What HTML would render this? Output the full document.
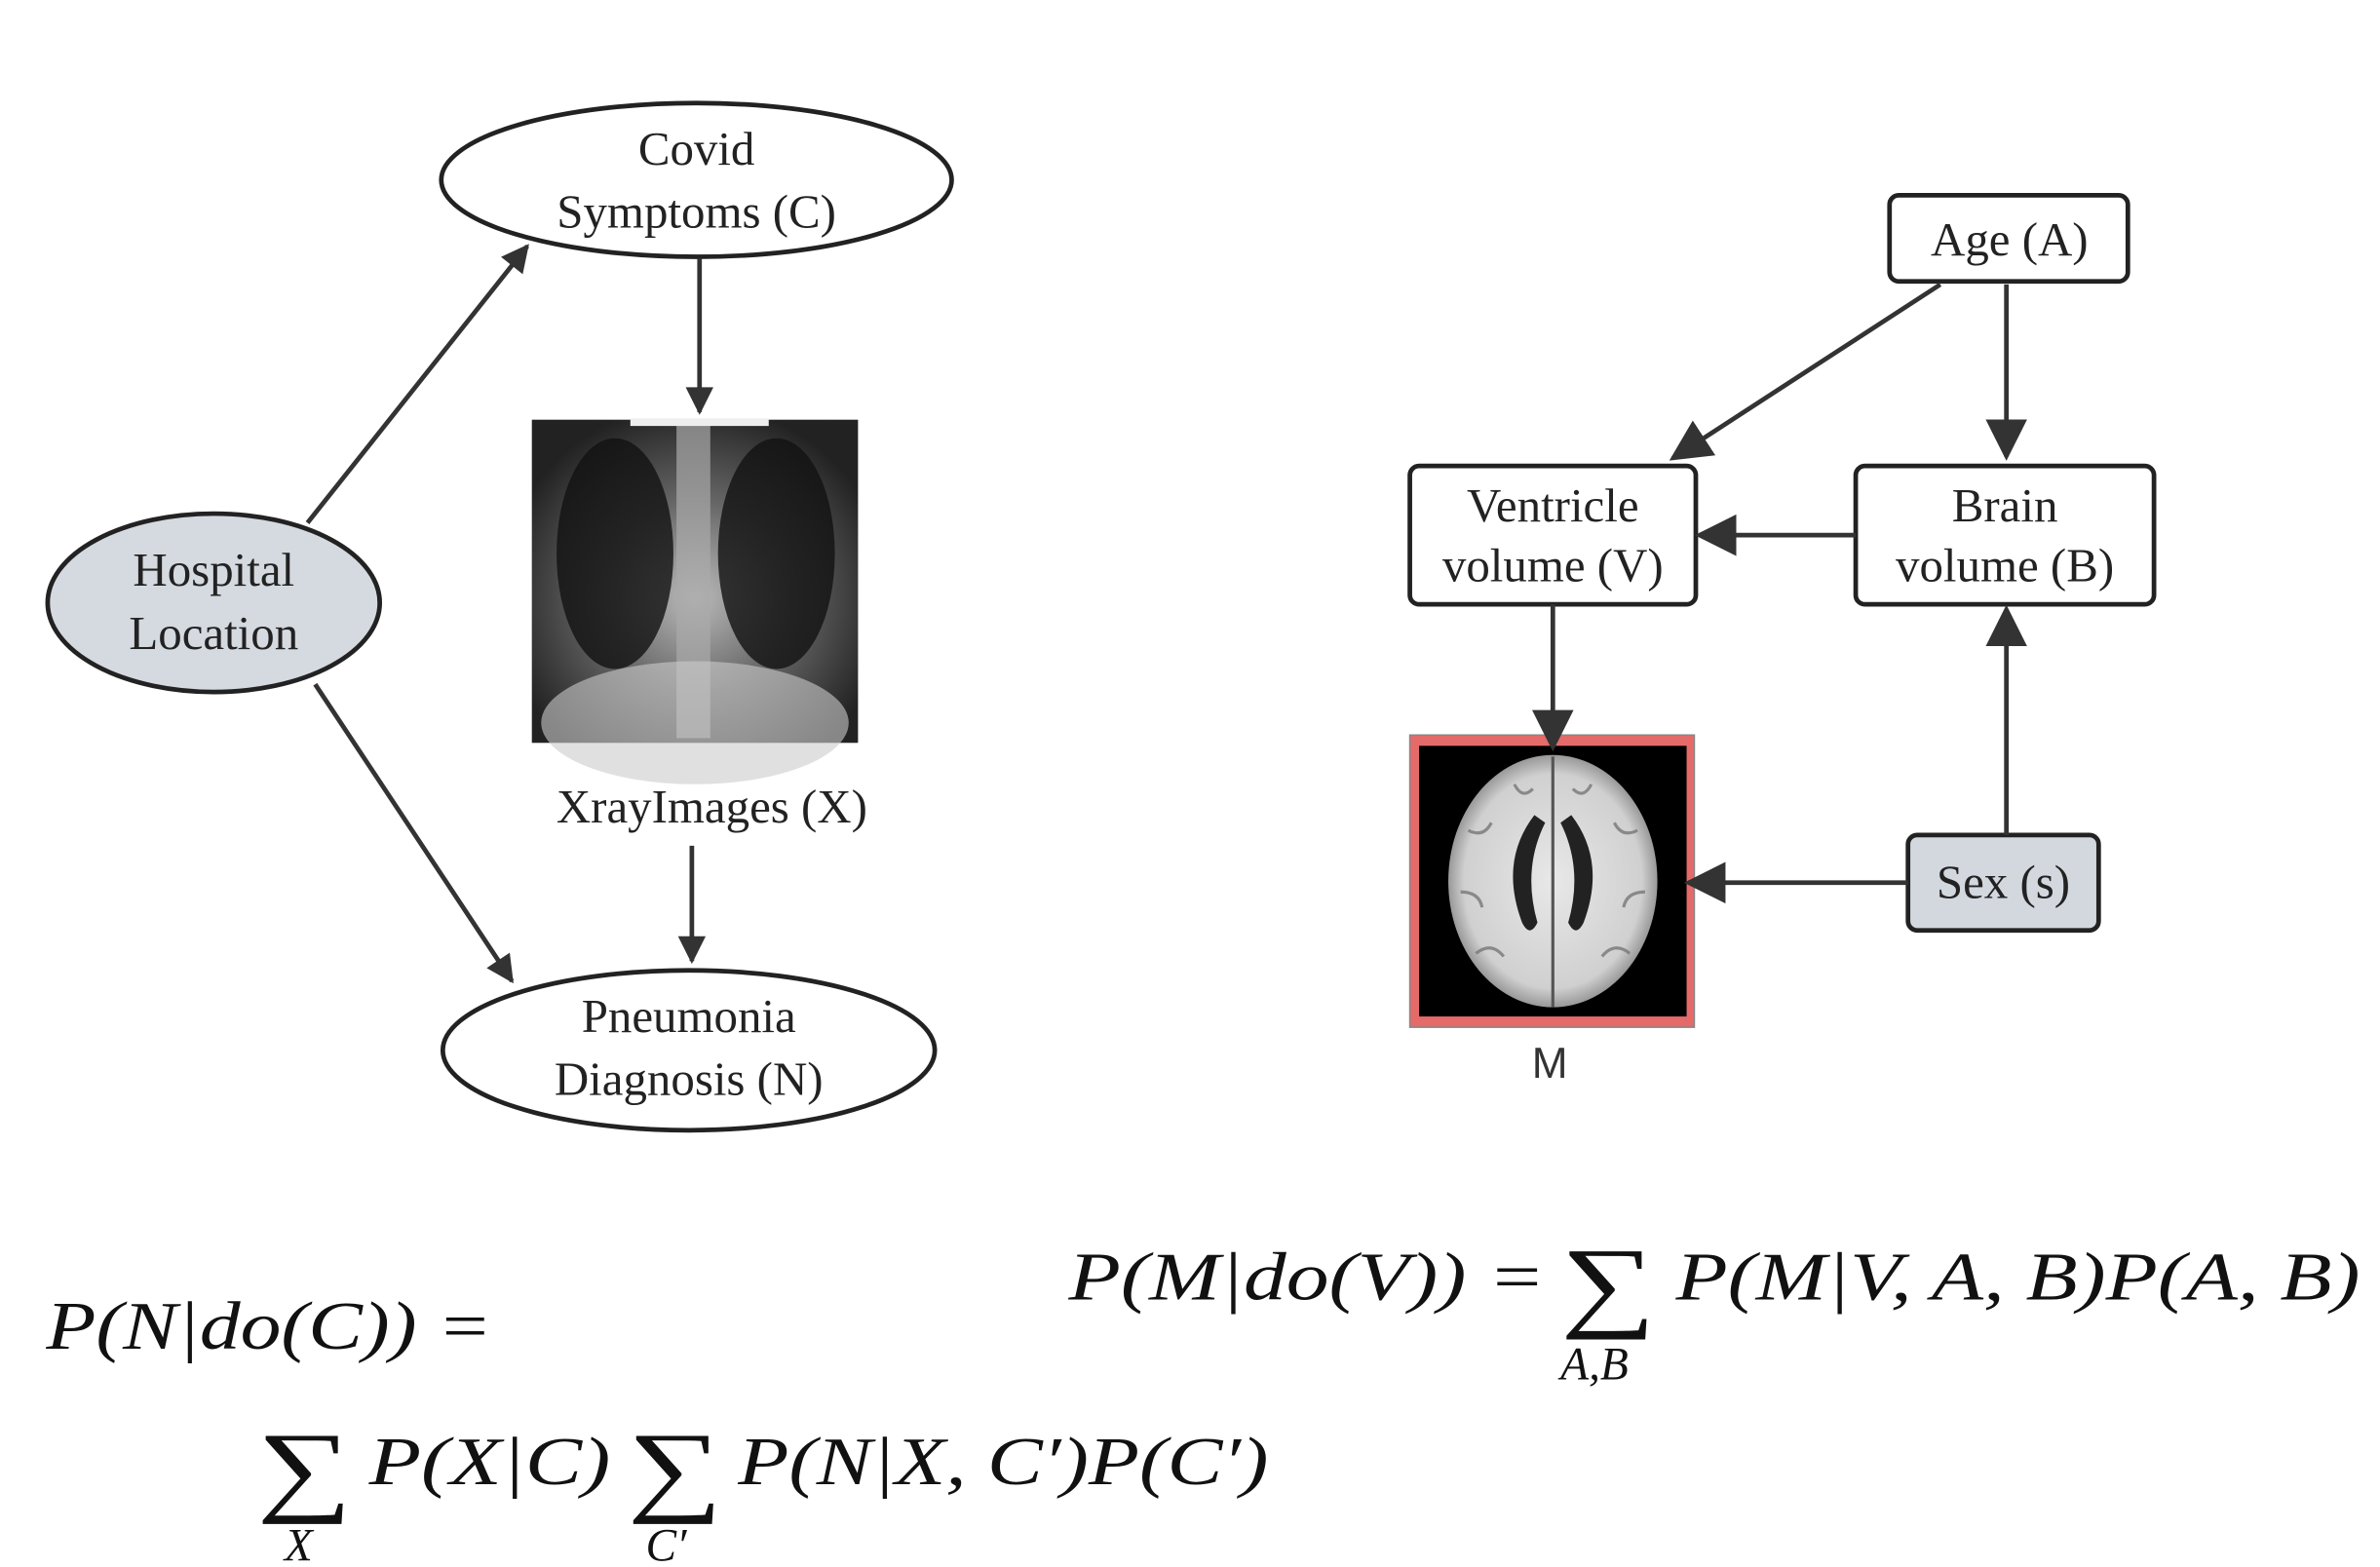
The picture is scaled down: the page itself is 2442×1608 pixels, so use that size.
<!DOCTYPE html>
<html><head><meta charset="utf-8"><style>
html,body{margin:0;padding:0;background:#fff}
svg{display:block}
.t{font-family:"Liberation Serif",serif;font-size:31px;fill:#222}
.m{font-family:"Liberation Serif",serif;font-style:italic;font-size:44px;fill:#111}
.mu{font-family:"Liberation Serif",serif;font-size:44px;fill:#111}
</style></head><body>
<svg width="2442" height="1608" viewBox="0 0 1548 1019" preserveAspectRatio="none" xmlns="http://www.w3.org/2000/svg">
<defs>
<marker id="ah" viewBox="0 0 10 10" refX="9" refY="5" markerWidth="22" markerHeight="18" markerUnits="userSpaceOnUse" orient="auto"><path d="M0,0L10,5L0,10z" fill="#333"/></marker>
<marker id="ah2" viewBox="0 0 10 10" refX="9" refY="5" markerWidth="9" markerHeight="9" orient="auto"><path d="M0,0L10,5L0,10z" fill="#333"/></marker>
<radialGradient id="xr" cx="50%" cy="55%" r="60%"><stop offset="0" stop-color="#bbb"/><stop offset="0.5" stop-color="#666"/><stop offset="1" stop-color="#222"/></radialGradient>
<radialGradient id="br" cx="50%" cy="50%" r="50%"><stop offset="0" stop-color="#e8e8e8"/><stop offset="0.85" stop-color="#d0d0d0"/><stop offset="1" stop-color="#999"/></radialGradient>
</defs>
<g>
<ellipse cx="453" cy="117" rx="166" ry="50" fill="#fff" stroke="#222" stroke-width="3"/>
<text class="t" x="453" y="107" text-anchor="middle">Covid</text>
<text class="t" x="453" y="148" text-anchor="middle">Symptoms (C)</text>
<ellipse cx="139" cy="392" rx="108" ry="58" fill="#d5d9e0" stroke="#222" stroke-width="3"/>
<text class="t" x="139" y="381" text-anchor="middle">Hospital</text>
<text class="t" x="139" y="422" text-anchor="middle">Location</text>
<ellipse cx="448" cy="683" rx="160" ry="52" fill="#fff" stroke="#222" stroke-width="3"/>
<text class="t" x="448" y="671" text-anchor="middle">Pneumonia</text>
<text class="t" x="448" y="712" text-anchor="middle">Diagnosis (N)</text>
<g>
<rect x="346" y="273" width="212" height="210" fill="#2a2a2a"/>
<rect x="346" y="273" width="212" height="210" fill="url(#xr)"/>
<ellipse cx="400" cy="360" rx="38" ry="75" fill="#111" opacity="0.8"/>
<ellipse cx="505" cy="360" rx="38" ry="75" fill="#111" opacity="0.8"/>
<rect x="440" y="275" width="22" height="205" fill="#aaa" opacity="0.7"/>
<ellipse cx="452" cy="470" rx="100" ry="40" fill="#ccc" opacity="0.6"/>
<rect x="346" y="450" width="212" height="33" fill="#fff" opacity="0"/>
<rect x="410" y="272" width="90" height="5" fill="#eee"/>
</g>
<text class="t" x="463" y="535" text-anchor="middle">XrayImages (X)</text>
<g stroke="#333" stroke-width="3" fill="none">
<line x1="200" y1="340" x2="343" y2="160" marker-end="url(#ah)"/>
<line x1="205" y1="445" x2="333" y2="638" marker-end="url(#ah)"/>
<line x1="455" y1="168" x2="455" y2="268" marker-end="url(#ah)"/>
<line x1="450" y1="550" x2="450" y2="625" marker-end="url(#ah)"/>
</g>
</g>
<g>
<rect x="1229" y="127" width="155" height="56" rx="6" fill="#fff" stroke="#222" stroke-width="3"/>
<text class="t" x="1307" y="166" text-anchor="middle">Age (A)</text>
<rect x="917" y="303" width="186" height="90" rx="6" fill="#fff" stroke="#222" stroke-width="3"/>
<text class="t" x="1010" y="339" text-anchor="middle">Ventricle</text>
<text class="t" x="1010" y="378" text-anchor="middle">volume (V)</text>
<rect x="1207" y="303" width="194" height="90" rx="6" fill="#fff" stroke="#222" stroke-width="3"/>
<text class="t" x="1304" y="339" text-anchor="middle">Brain</text>
<text class="t" x="1304" y="378" text-anchor="middle">volume (B)</text>
<rect x="1241" y="543" width="124" height="62" rx="6" fill="#d3d8df" stroke="#222" stroke-width="3"/>
<text class="t" x="1303" y="584" text-anchor="middle">Sex (s)</text>
<g>
<rect x="917" y="478" width="185" height="190" fill="#e56a6a" stroke="#888" stroke-width="1"/>
<rect x="923" y="485" width="174" height="176" fill="#000"/>
<ellipse cx="1010" cy="573" rx="68" ry="82" fill="url(#br)"/>
<g stroke="#777" stroke-width="2" fill="none" opacity="0.8">
<path d="M955,540 q10,5 15,-5 M950,580 q12,0 14,10 M960,620 q10,-8 18,2 M1065,540 q-10,5 -15,-5 M1070,580 q-12,0 -14,10 M1060,620 q-10,-8 -18,2 M985,510 q5,10 12,3 M1035,510 q-5,10 -12,3"/>
</g>
<path d="M998,530 Q975,560 990,600 Q995,610 1000,600 Q990,565 1005,535z" fill="#222"/>
<path d="M1022,530 Q1045,560 1030,600 Q1025,610 1020,600 Q1030,565 1015,535z" fill="#222"/>
<line x1="1010" y1="492" x2="1010" y2="655" stroke="#555" stroke-width="2"/>
</g>
<text x="1008" y="701" text-anchor="middle" style="font-family:'Liberation Sans',sans-serif;font-size:28px;fill:#333">M</text>
<g stroke="#333" stroke-width="3" fill="none">
<line x1="1262" y1="185" x2="1088" y2="298" marker-end="url(#ah2)"/>
<line x1="1305" y1="185" x2="1305" y2="297" marker-end="url(#ah2)"/>
<line x1="1207" y1="348" x2="1105" y2="348" marker-end="url(#ah2)"/>
<line x1="1010" y1="393" x2="1010" y2="486" marker-end="url(#ah2)"/>
<line x1="1305" y1="543" x2="1305" y2="396" marker-end="url(#ah2)"/>
<line x1="1241" y1="574" x2="1098" y2="574" marker-end="url(#ah2)"/>
</g>
</g>
<g>
<text class="m" x="695" y="845" textLength="310" lengthAdjust="spacingAndGlyphs">P(M|do(V)) =</text>
<text class="mu" x="1015" y="857" style="font-size:66px" textLength="62" lengthAdjust="spacingAndGlyphs">∑</text>
<text class="m" x="1015" y="897" style="font-size:30px">A,B</text>
<text class="m" x="1090" y="845" textLength="445" lengthAdjust="spacingAndGlyphs">P(M|V, A, B)P(A, B)</text>
</g>
<g>
<text class="m" x="30" y="877" textLength="290" lengthAdjust="spacingAndGlyphs">P(N|do(C)) =</text>
<text class="mu" x="167" y="977" style="font-size:66px" textLength="62" lengthAdjust="spacingAndGlyphs">∑</text>
<text class="m" x="185" y="1015" style="font-size:30px">X</text>
<text class="m" x="240" y="965" textLength="157" lengthAdjust="spacingAndGlyphs">P(X|C)</text>
<text class="mu" x="408" y="977" style="font-size:66px" textLength="62" lengthAdjust="spacingAndGlyphs">∑</text>
<text class="m" x="420" y="1015" style="font-size:30px">C′</text>
<text class="m" x="480" y="965" textLength="345" lengthAdjust="spacingAndGlyphs">P(N|X, C′)P(C′)</text>
</g>
</svg>
</body></html>
